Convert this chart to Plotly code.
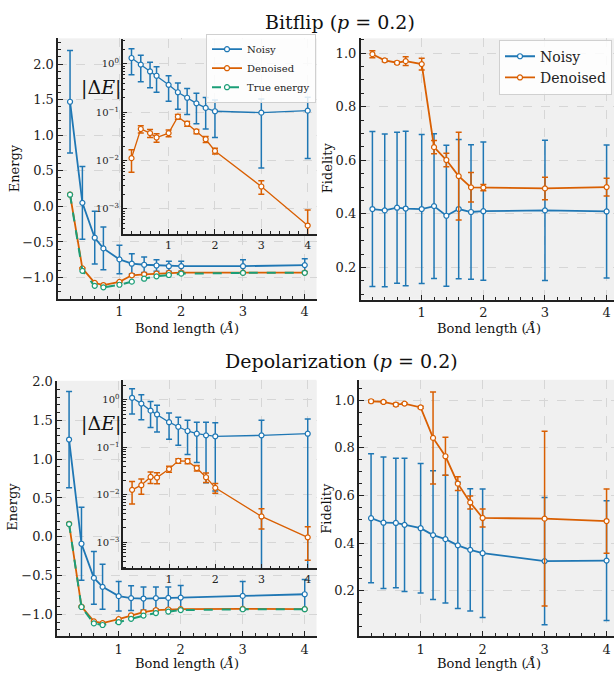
import plotly.graph_objects as go

# ---------------- data ----------------
bond = [0.2, 0.4, 0.6, 0.74, 1.0, 1.2, 1.4, 1.6, 1.8, 2.0, 3.0, 4.0]

true_energy = [0.164, -0.905, -1.116, -1.137, -1.101, -1.057, -1.016, -0.983, -0.964, -0.945, -0.934, -0.933]

# Bitflip
bf_noisy_E = [1.47, 0.05, -0.44, -0.59, -0.745, -0.805, -0.82, -0.83, -0.84, -0.84, -0.84, -0.825]
bf_noisy_E_err = [0.72, 0.51, 0.37, 0.30, 0.20, 0.14, 0.11, 0.08, 0.07, 0.07, 0.09, 0.09]
bf_den_E = [0.167, -0.87, -1.075, -1.105, -1.06, -0.968, -0.954, -0.944, -0.935, -0.931, -0.93, -0.93]
bf_den_E_err = [0.006, 0.008, 0.007, 0.006, 0.006, 0.009, 0.007, 0.004, 0.004, 0.002, 0.001, 0.0005]

bf_noisy_dE = [1.33, 0.97, 0.70, 0.57, 0.37, 0.26, 0.20, 0.153, 0.123, 0.105, 0.098, 0.108]
bf_noisy_dE_err = [0.73, 0.54, 0.38, 0.31, 0.20, 0.145, 0.11, 0.095, 0.078, 0.075, 0.091, 0.097]
bf_den_dE = [0.0112, 0.045, 0.037, 0.030, 0.037, 0.081, 0.058, 0.040, 0.0276, 0.0158, 0.0029, 0.00045]
bf_den_dE_err = [0.0055, 0.0078, 0.007, 0.006, 0.006, 0.009, 0.0065, 0.004, 0.004, 0.0022, 0.0009, 0.0005]

bf_noisy_F = [0.418, 0.413, 0.423, 0.42, 0.418, 0.429, 0.393, 0.418, 0.407, 0.41, 0.413, 0.409]
bf_noisy_F_err = [0.289, 0.285, 0.282, 0.288, 0.278, 0.27, 0.263, 0.26, 0.251, 0.258, 0.262, 0.248]
bf_den_F = [0.996, 0.973, 0.964, 0.97, 0.959, 0.649, 0.601, 0.541, 0.499, 0.498, 0.495, 0.5]
bf_den_F_err = [0.013, 0.005, 0.005, 0.016, 0.022, 0.025, 0.025, 0.164, 0.055, 0.012, 0.042, 0.033]

# Depolarization
dp_noisy_E = [1.253, -0.09, -0.53, -0.645, -0.765, -0.79, -0.796, -0.79, -0.788, -0.784, -0.762, -0.741]
dp_noisy_E_err = [0.62, 0.47, 0.34, 0.29, 0.19, 0.16, 0.148, 0.142, 0.14, 0.157, 0.186, 0.19]
dp_den_E = [0.167, -0.90, -1.09, -1.113, -1.062, -1.012, -0.97, -0.946, -0.937, -0.932, -0.929, -0.932]
dp_den_E_err = [0.006, 0.006, 0.007, 0.006, 0.005, 0.006, 0.006, 0.005, 0.005, 0.003, 0.002, 0.001]

dp_noisy_dE = [1.10, 0.83, 0.59, 0.49, 0.337, 0.27, 0.22, 0.193, 0.178, 0.17, 0.178, 0.193]
dp_noisy_dE_err = [0.60, 0.45, 0.33, 0.28, 0.19, 0.16, 0.15, 0.145, 0.16, 0.158, 0.19, 0.20]
dp_den_dE = [0.0127, 0.0159, 0.0237, 0.023, 0.0348, 0.0519, 0.051, 0.0365, 0.0234, 0.014, 0.0035, 0.00127]
dp_den_dE_err = [0.0063, 0.0057, 0.0065, 0.006, 0.005, 0.0057, 0.006, 0.0048, 0.0053, 0.0032, 0.0016, 0.00085]

dp_noisy_F = [0.505, 0.486, 0.485, 0.477, 0.463, 0.434, 0.417, 0.391, 0.372, 0.358, 0.325, 0.327]
dp_noisy_F_err = [0.271, 0.276, 0.272, 0.28, 0.272, 0.27, 0.268, 0.265, 0.257, 0.27, 0.267, 0.251]
dp_den_F = [0.996, 0.993, 0.982, 0.986, 0.97, 0.842, 0.765, 0.65, 0.571, 0.506, 0.503, 0.493]
dp_den_F_err = [0.005, 0.004, 0.006, 0.004, 0.005, 0.193, 0.08, 0.029, 0.027, 0.038, 0.367, 0.135]

log_tickvals = [0.001, 0.01, 0.1, 1]
log_ticktext = ["10<sup>\u22123</sup>", "10<sup>\u22122</sup>", "10<sup>\u22121</sup>", "10<sup>0</sup>"]

# ---------------- style ----------------
BLUE = "#1f77b4"
ORANGE = "#d95f02"
GREEN = "#1b9e77"
FONT = "DejaVu Serif"
W, H = 614, 675


def px_dom(a, b, size):
    return [a / size, b / size]


def ydom(top, bottom):
    return [1 - bottom / H, 1 - top / H]


fig = go.Figure()


def add_series(x, y, err, color, xa, ya, name, lw=1.8, msize=5, legend=None, showlegend=False, dash=None):
    fig.add_trace(go.Scatter(
        x=x, y=y, xaxis=xa, yaxis=ya, name=name,
        mode="lines+markers",
        line=dict(color=color, width=lw, dash=dash),
        marker=dict(symbol="circle", size=msize, color="white", line=dict(color=color, width=1.2)),
        error_y=None if err is None else dict(type="data", array=err, visible=True, color=color,
                                              thickness=1.5, width=3),
        showlegend=showlegend,
        legend=legend,
    ))


# Top-left main (x, y)
add_series(bond, bf_noisy_E, bf_noisy_E_err, BLUE, "x", "y", "Noisy", legend="legend2", showlegend=True)
add_series(bond, bf_den_E, bf_den_E_err, ORANGE, "x", "y", "Denoised", legend="legend2", showlegend=True)
add_series(bond, true_energy, None, GREEN, "x", "y", "True energy", lw=2, legend="legend2", showlegend=True, dash="dash")
# Top-left inset (x2, y2)
add_series(bond, bf_noisy_dE, bf_noisy_dE_err, BLUE, "x2", "y2", "Noisy", lw=1.3, msize=5)
add_series(bond, bf_den_dE, bf_den_dE_err, ORANGE, "x2", "y2", "Denoised", lw=1.3, msize=5)
# Top-right (x3, y3)
add_series(bond, bf_noisy_F, bf_noisy_F_err, BLUE, "x3", "y3", "Noisy", legend="legend", showlegend=True)
add_series(bond, bf_den_F, bf_den_F_err, ORANGE, "x3", "y3", "Denoised", legend="legend", showlegend=True)
# Bottom-left main (x4, y4)
add_series(bond, dp_noisy_E, dp_noisy_E_err, BLUE, "x4", "y4", "Noisy")
add_series(bond, dp_den_E, dp_den_E_err, ORANGE, "x4", "y4", "Denoised")
add_series(bond, true_energy, None, GREEN, "x4", "y4", "True energy", lw=2, dash="dash")
# Bottom-left inset (x5, y5)
add_series(bond, dp_noisy_dE, dp_noisy_dE_err, BLUE, "x5", "y5", "Noisy", lw=1.3, msize=5)
add_series(bond, dp_den_dE, dp_den_dE_err, ORANGE, "x5", "y5", "Denoised", lw=1.3, msize=5)
# Bottom-right (x6, y6)
add_series(bond, dp_noisy_F, dp_noisy_F_err, BLUE, "x6", "y6", "Noisy")
add_series(bond, dp_den_F, dp_den_F_err, ORANGE, "x6", "y6", "Denoised")

GRID = "#d6d6d6"
LINE = "#222222"


def xaxis(domain, rng, anchor, size=13):
    return dict(domain=domain, range=rng, anchor=anchor, tick0=0, dtick=1,
                ticks="inside", ticklen=5, tickwidth=1, tickcolor=LINE,
                minor=dict(dtick=0.2, ticks="inside", ticklen=3, tickwidth=1, tickcolor=LINE, showgrid=False),
                showgrid=True, gridcolor=GRID, griddash="dash", gridwidth=1,
                showline=True, linecolor=LINE, linewidth=1.6, zeroline=False,
                tickfont=dict(family=FONT, size=size, color="#222"))


def yaxis_lin(domain, rng, anchor, dtick, mdtick):
    return dict(domain=domain, range=rng, anchor=anchor, tick0=0, dtick=dtick, tickformat=".1f",
                ticks="inside", ticklen=5, tickwidth=1, tickcolor=LINE,
                minor=dict(dtick=mdtick, ticks="inside", ticklen=3, tickwidth=1, tickcolor=LINE, showgrid=False),
                showgrid=True, gridcolor=GRID, griddash="dash", gridwidth=1,
                showline=True, linecolor=LINE, linewidth=1.6, zeroline=False,
                tickfont=dict(family=FONT, size=13, color="#222"))


def yaxis_log(domain, rng, anchor):
    return dict(domain=domain, range=rng, anchor=anchor, type="log",
                tickmode="array", tickvals=log_tickvals, ticktext=log_ticktext,
                ticks="inside", ticklen=4, tickwidth=1, tickcolor=LINE,
                minor=dict(dtick="D1", ticks="inside", ticklen=2.5, tickwidth=1, tickcolor=LINE, showgrid=False),
                showgrid=True, gridcolor=GRID, griddash="dash", gridwidth=1,
                showline=True, linecolor=LINE, linewidth=1.6, zeroline=False,
                tickfont=dict(family=FONT, size=10, color="#222"))


layout = dict(
    width=W, height=H,
    margin=dict(l=0, r=0, t=0, b=0),
    paper_bgcolor="white", plot_bgcolor="#f0f0f0",
    font=dict(family=FONT, color="#222"),
    # Top-left main
    xaxis=xaxis(px_dom(58.3, 316.5, W), [0.01, 4.19], "y"),
    yaxis=yaxis_lin(ydom(31.7, 295), [-1.30, 2.36], "x", 0.5, 0.1),
    # Top-left inset
    xaxis2=xaxis(px_dom(122.7, 316.5, W), [0.01, 4.19], "y2", size=11),
    yaxis2=yaxis_log(ydom(32.7, 229.3), [-3.52, 0.51], "x2"),
    # Top-right
    xaxis3=xaxis(px_dom(360.7, 614, W), [0.01, 4.12], "y3"),
    yaxis3=yaxis_lin(ydom(31.7, 295.7), [0.08, 1.055], "x3", 0.2, 0.05),
    # Bottom-left main
    xaxis4=xaxis(px_dom(57.3, 316.5, W), [0.01, 4.19], "y4"),
    yaxis4=yaxis_lin(ydom(377.7, 635.7), [-1.28, 2.01], "x4", 0.5, 0.1),
    # Bottom-left inset
    xaxis5=xaxis(px_dom(123.3, 316.5, W), [0.01, 4.19], "y5", size=11),
    yaxis5=yaxis_log(ydom(376.7, 567.3), [-3.55, 0.42], "x5"),
    # Bottom-right
    xaxis6=xaxis(px_dom(359.3, 614, W), [0.01, 4.12], "y6"),
    yaxis6=yaxis_lin(ydom(376.7, 635.7), [0.01, 1.086], "x6", 0.2, 0.05),
    legend=dict(x=612 / W, y=1 - 33 / H, xanchor="right", yanchor="top", xref="paper", yref="paper",
                bgcolor="rgba(255,255,255,0.85)", bordercolor="#d0d0d0", borderwidth=1,
                font=dict(family=FONT, size=14, color="#222"), tracegroupgap=0, itemwidth=30),
    legend2=dict(x=316 / W, y=1 - 27 / H, xanchor="right", yanchor="top", xref="paper", yref="paper",
                 bgcolor="rgba(255,255,255,0.85)", bordercolor="#d0d0d0", borderwidth=1,
                 font=dict(family=FONT, size=10, color="#222"), tracegroupgap=0, itemwidth=30),
)
fig.update_layout(**layout)

ann = []


def text(x, y, s, size, angle=0):
    ann.append(dict(x=x / W, y=1 - y / H, xref="paper", yref="paper", text=s, showarrow=False,
                    xanchor="center", yanchor="middle", textangle=angle,
                    font=dict(family=FONT, size=size, color="#111")))


text(340, 15, "Bitflip (<i>p</i> = 0.2)", 19)
text(341, 358, "Depolarization (<i>p</i> = 0.2)", 19)
text(14, 163, "Energy", 13, -90)
text(327, 163, "Fidelity", 13, -90)
text(13, 505, "Energy", 13, -90)
text(327, 507, "Fidelity", 13, -90)
text(187, 325, "Bond length (<i>Å</i>)", 13)
text(489, 325, "Bond length (<i>Å</i>)", 13)
text(187, 663, "Bond length (<i>Å</i>)", 13)
text(489, 663, "Bond length (<i>Å</i>)", 13)
text(101, 81, "|Δ<i>E</i>|", 19)
text(101, 421, "|Δ<i>E</i>|", 19)
fig.update_layout(annotations=ann)

fix_page = (
    "document.documentElement.style.margin='0';document.documentElement.style.padding='0';"
    "document.body.style.margin='0';document.body.style.padding='0';document.body.style.overflow='hidden';"
    "var gd=document.getElementById('{plot_id}');gd.style.position='absolute';gd.style.left='0px';gd.style.top='0px';"
)
fig.write_html("out.html", post_script=fix_page, config={"displayModeBar": False})
